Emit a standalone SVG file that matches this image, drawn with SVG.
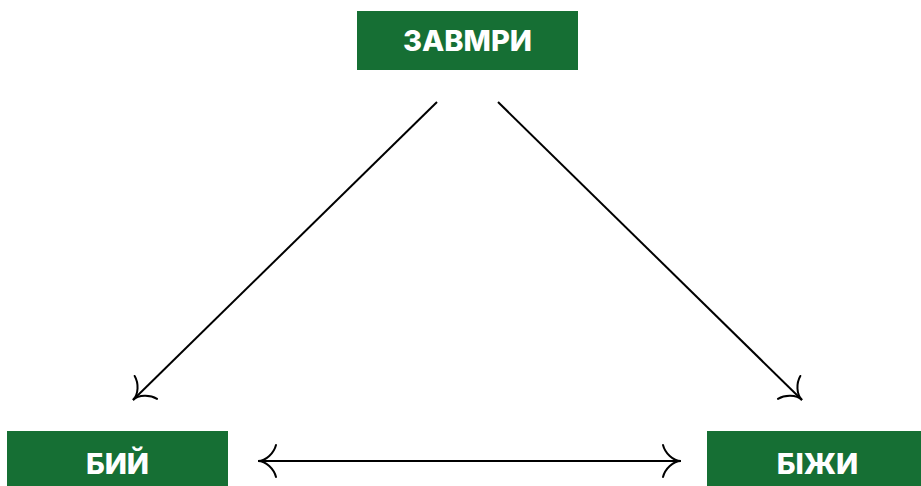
<svg xmlns="http://www.w3.org/2000/svg" width="921" height="486" viewBox="0 0 921 486">
  <style>
    .box { fill: #166f34; }
    .label { fill: #ffffff; font-family: Inter, "Liberation Sans", sans-serif; font-weight: 800; font-size: 29px; text-anchor: middle; }
    .edge { fill: none; stroke: #000000; stroke-width: 2; }
  </style>
  <defs>
    <marker id="to" markerUnits="userSpaceOnUse" viewBox="-22 -20 26 40" refX="0" refY="0" markerWidth="26" markerHeight="40" orient="auto-start-reverse" overflow="visible">
      <path d="M -18,-16 C -16,-8 -8,0 0,0 C -8,0 -16,8 -18,16" fill="none" stroke="#000" stroke-width="2" stroke-linecap="round"/>
    </marker>
  </defs>

  <g id="connectors">
    <line class="edge" x1="437" y1="102" x2="133" y2="400" marker-end="url(#to)"/>
    <line class="edge" x1="498" y1="102" x2="802" y2="400" marker-end="url(#to)"/>
    <line class="edge" x1="258" y1="461" x2="681" y2="461" marker-start="url(#to)" marker-end="url(#to)"/>
  </g>

  <g id="node-freeze">
    <rect class="box" x="357" y="11" width="221" height="59"/>
    <text class="label" x="467.5" y="50.5">ЗАВМРИ</text>
  </g>

  <g id="node-fight">
    <rect class="box" x="7" y="431" width="221" height="55"/>
    <text class="label" x="117.5" y="473.5">БИЙ</text>
  </g>

  <g id="node-flight">
    <rect class="box" x="707" y="431" width="221" height="55"/>
    <text class="label" x="817.5" y="473.5">БІЖИ</text>
  </g>
</svg>
